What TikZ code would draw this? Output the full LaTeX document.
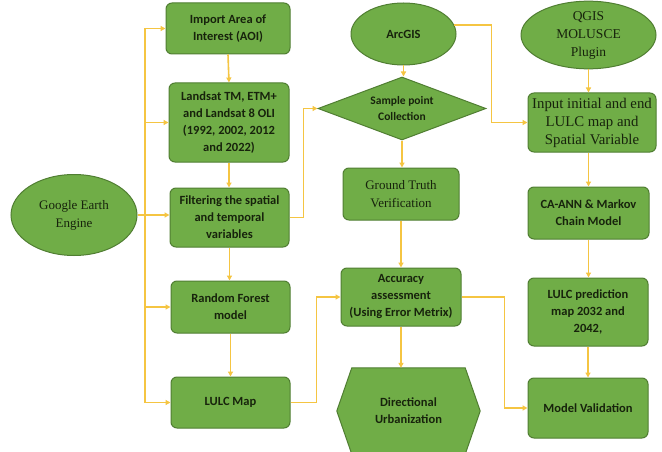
\documentclass[tikz,border=0pt]{standalone}
\usepackage{fontspec}
\setmainfont{Carlito}
\newfontfamily\seriffont{Liberation Serif}
\usetikzlibrary{arrows.meta,shapes.geometric,calc}
\definecolor{gfill}{HTML}{70AD47}
\definecolor{gline}{HTML}{507E32}
\definecolor{yel}{HTML}{F5C542}
\definecolor{txt}{HTML}{17230C}
\begin{document}
\begin{tikzpicture}[x=1pt,y=-1pt,
 box/.style={draw=gline, line width=1pt, fill=gfill, rounded corners=6pt, align=center, text=txt,
   font=\bfseries\fontsize{12.5}{17}\selectfont, inner sep=2pt},
 oval/.style={ellipse, draw=gline, line width=1pt, fill=gfill, align=center, text=txt,
   font=\seriffont\fontsize{13}{18}\selectfont, inner sep=0pt},
 conn/.style={draw=yel, line width=1.6pt},
 arr/.style={conn, -{Triangle[length=5pt,width=5pt]}},
]
\useasboundingbox (0,0) rectangle (662,452);
\path[fill=white] (0,0) rectangle (662,452);

% left column
\node[oval, minimum width=126pt, minimum height=81pt] (gee) at (74,215) {Google Earth\\Engine};
\node[box, minimum width=124pt, minimum height=51pt] (aoi) at (228,28.5) {Import Area of\\Interest (AOI)};
\node[box, minimum width=120pt, minimum height=79pt] (landsat) at (229,122.5) {Landsat TM, ETM+\\and Landsat 8 OLI\\(1992, 2002, 2012\\and 2022)};
\node[box, minimum width=119pt, minimum height=59pt] (filter) at (229.5,217.5) {Filtering the spatial\\and temporal\\variables};
\node[box, minimum width=119pt, minimum height=52pt] (rf) at (230.5,307) {Random Forest\\model};
\node[box, minimum width=119pt, minimum height=51pt] (lulc) at (230.5,402.5) {LULC Map};

% middle column
\node[oval, minimum width=105pt, minimum height=62pt, font=\bfseries\fontsize{12.5}{17}\selectfont] (arcgis) at (403.5,34) {ArcGIS};
\node[diamond, draw=gline, line width=1pt, fill=gfill, text=txt, align=center, inner sep=0pt,
  aspect=2.67, minimum width=168pt, minimum height=63pt,
  font=\bfseries\fontsize{11.5}{16}\selectfont] (dia) at (402,108.5) {Sample point\\Collection};
\node[box, minimum width=116pt, minimum height=52pt, font=\seriffont\fontsize{13}{18}\selectfont] (gt) at (401,194) {Ground Truth\\Verification};
\node[box, minimum width=120pt, minimum height=58pt] (acc) at (401,297) {Accuracy\\assessment\\(Using Error Metrix)};
\node[minimum width=143pt, minimum height=86pt, inner sep=0pt] (hex) at (408.5,411) {};
\filldraw[fill=gfill, draw=gline, line width=1pt] (hex.west) -- ($(hex.north west)+(15,0)$) -- ($(hex.north east)+(-15,0)$)
  -- (hex.east) -- ($(hex.south east)+(-15,0)$) -- ($(hex.south west)+(15,0)$) -- cycle;
\node[text=txt, align=center, font=\bfseries\fontsize{12.5}{17}\selectfont] (hext) at (hex.center) {Directional\\Urbanization};

% right column
\node[oval, minimum width=135pt, minimum height=60pt, font=\seriffont\fontsize{13.5}{18}\selectfont] (qgis) at (588.5,35) {QGIS\\MOLUSCE\\Plugin};
\node[box, minimum width=128pt, minimum height=59pt, font=\seriffont\fontsize{14.8}{18}\selectfont] (input) at (592,122.5) {Input initial and end\\LULC map and\\Spatial Variable};
\node[box, minimum width=121pt, minimum height=52pt] (ca) at (588.5,213) {CA-ANN \& Markov\\Chain Model};
\node[box, minimum width=120pt, minimum height=68pt] (pred) at (588,312) {LULC prediction\\map 2032 and\\2042,};
\node[box, minimum width=120pt, minimum height=60pt] (mv) at (588,408) {Model Validation};

% connectors left
\coordinate (trunk) at (145,0);
\draw[conn] (aoi.west -| trunk) -- (lulc.west -| trunk);
\draw[arr] (aoi.west -| trunk) -- (aoi.west);
\draw[arr] (landsat.west -| trunk) -- (landsat.west);
\draw[arr] (gee.east) -- (gee.east -| filter.west);
\draw[arr] (rf.west -| trunk) -- (rf.west);
\draw[arr] (lulc.west -| trunk) -- (lulc.west);
\draw[arr] (aoi.south) -- (landsat.north);
\draw[arr] (landsat.south) -- (landsat.south |- filter.north);
\draw[arr] (filter.south) -- (filter.south |- rf.north);
\draw[arr] (rf.south) -- (rf.south |- lulc.north);
\draw[arr] (filter.east) -- ++(14,0) |- (dia.west);
\draw[arr] (lulc.east) -- ++(26,0) |- (acc.west);

% connectors middle
\draw[arr] (arcgis.south) -- (arcgis.south |- dia.north);
\draw[arr] (dia.south) -- (dia.south |- gt.north);
\draw[arr] (gt.south) -- (gt.south |- acc.north);
\draw[arr] (acc.south) -- (acc.south |- hex.north);
\draw[arr] (arcgis.10) -- ++(37,0) |- (input.west);
\draw[arr] (acc.east) -- ++(43,0) |- (mv.west);

% connectors right
\draw[arr] (qgis.south) -- (qgis.south |- input.north);
\draw[arr] (ca.north |- input.south) -- (ca.north);
\draw[arr] (ca.south) -- (ca.south |- pred.north);
\draw[arr] (pred.south) -- (pred.south |- mv.north);
\end{tikzpicture}
\end{document}
